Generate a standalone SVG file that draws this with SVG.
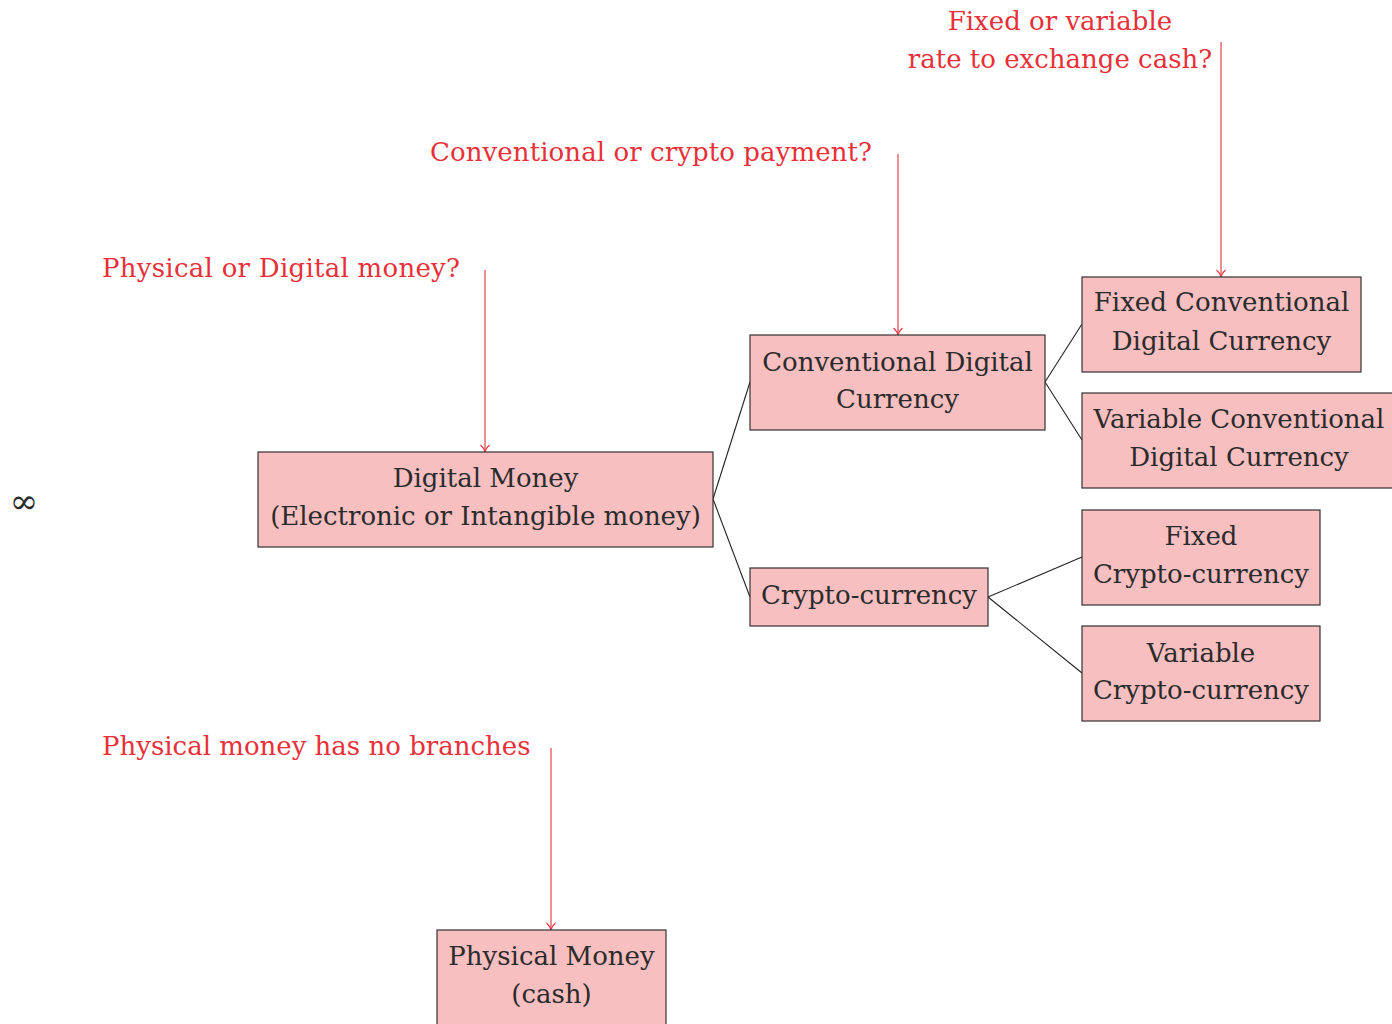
<svg xmlns="http://www.w3.org/2000/svg" width="1392" height="1024" viewBox="0 0 1392 1024">
  <style>
    .box { fill: #f8bfc1; stroke: #333333; stroke-width: 1.2; }
    .txt { font-family: "DejaVu Serif", "Liberation Serif", serif; font-size: 26px; fill: #2b2b2b; text-anchor: middle; }
    .q { font-family: "DejaVu Serif", "Liberation Serif", serif; font-size: 26px; fill: #e8303a; }
    .link { stroke: #222222; stroke-width: 1.1; fill: none; }
    .ask { stroke: #e8303a; stroke-width: 1.1; fill: none; marker-end: url(#tip); }
  </style>
  <defs>
    <marker id="tip" markerWidth="14" markerHeight="10" refX="11" refY="5" orient="auto" markerUnits="userSpaceOnUse">
      <path d="M4,0.5 Q7,4 11,5 Q7,6 4,9.5" fill="none" stroke="#e8303a" stroke-width="1.1"/>
    </marker>
  </defs>

  <rect x="0" y="0" width="1392" height="1024" fill="#ffffff"/>

  <text class="txt" x="24" y="513" style="font-size:34px">∞</text>

  <!-- tree branches and question pointers -->
  <g id="connectors">
    <path class="link" d="M713,499 L750,382"/>
    <path class="link" d="M713,499 L750,597"/>
    <path class="link" d="M1045,382 L1082,324"/>
    <path class="link" d="M1045,382 L1082,440"/>
    <path class="link" d="M988,597 L1082,557"/>
    <path class="link" d="M988,597 L1082,673"/>
    <path class="ask" d="M485,270 L485,452"/>
    <path class="ask" d="M898,154 L898,335"/>
    <path class="ask" d="M1221,42 L1221,277"/>
    <path class="ask" d="M551,748 L551,930"/>
  </g>

  <g id="q-physical-digital">
    <text class="q" x="102" y="277" textLength="358">Physical or Digital money?</text>
  </g>
  <g id="q-conventional-crypto">
    <text class="q" x="430" y="161" textLength="442">Conventional or crypto payment?</text>
  </g>
  <g id="q-fixed-variable">
    <text class="q" x="1060" y="30" text-anchor="middle">Fixed or variable</text>
    <text class="q" x="1060" y="68" text-anchor="middle">rate to exchange cash?</text>
  </g>
  <g id="q-physical-none">
    <text class="q" x="102" y="755">Physical money has no branches</text>
  </g>

  <g id="digital-money">
    <rect class="box" x="258" y="452" width="455" height="95"/>
    <text class="txt" x="485.5" y="487">Digital Money</text>
    <text class="txt" x="485.5" y="525">(Electronic or Intangible money)</text>
  </g>

  <g id="conventional-digital">
    <rect class="box" x="750" y="335" width="295" height="95"/>
    <text class="txt" x="897.5" y="371">Conventional Digital</text>
    <text class="txt" x="897.5" y="408">Currency</text>
  </g>

  <g id="crypto-currency">
    <rect class="box" x="750" y="568" width="238" height="58"/>
    <text class="txt" x="869" y="604">Crypto-currency</text>
  </g>

  <g id="fixed-conventional">
    <rect class="box" x="1082" y="277" width="279" height="95"/>
    <text class="txt" x="1221.5" y="311">Fixed Conventional</text>
    <text class="txt" x="1221.5" y="350">Digital Currency</text>
  </g>

  <g id="variable-conventional">
    <rect class="box" x="1082" y="393" width="314" height="95"/>
    <text class="txt" x="1239" y="428">Variable Conventional</text>
    <text class="txt" x="1239" y="466">Digital Currency</text>
  </g>

  <g id="fixed-crypto">
    <rect class="box" x="1082" y="510" width="238" height="95"/>
    <text class="txt" x="1201" y="545">Fixed</text>
    <text class="txt" x="1201" y="583">Crypto-currency</text>
  </g>

  <g id="variable-crypto">
    <rect class="box" x="1082" y="626" width="238" height="95"/>
    <text class="txt" x="1201" y="662">Variable</text>
    <text class="txt" x="1201" y="699">Crypto-currency</text>
  </g>

  <g id="physical-money">
    <rect class="box" x="437" y="930" width="229" height="98"/>
    <text class="txt" x="551.5" y="965">Physical Money</text>
    <text class="txt" x="551.5" y="1003">(cash)</text>
  </g>
</svg>
